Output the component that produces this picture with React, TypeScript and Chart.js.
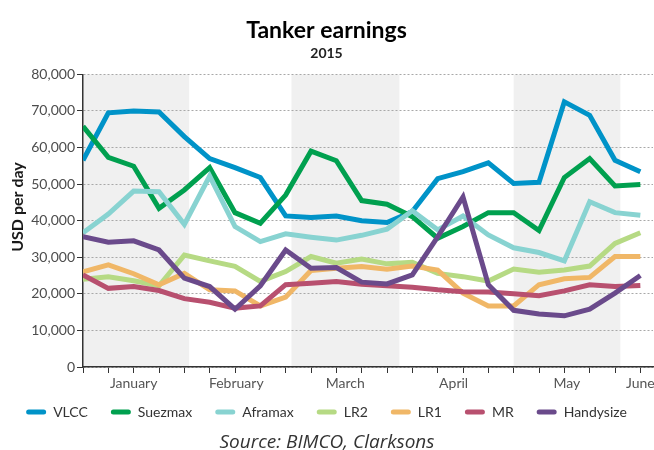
import React, { useEffect, useRef } from 'react';
import { Chart, registerables } from 'chart.js';

Chart.register(...registerables);

// ---- Data (weekly, 2015) ----
const seriesNames = ['VLCC', 'Suezmax', 'Aframax', 'LR2', 'LR1', 'MR', 'Handysize'];
const vlcc = [56500, 69500, 70000, 69700, 63000, 57000, 54500, 51800, 41300, 40900, 41300, 40000, 39500, 42500, 51500, 53400, 55800, 50200, 50500, 72500, 68800, 56500, 53400];
const suezmax = [65800, 57300, 54900, 43400, 48400, 54500, 42200, 39300, 47000, 59000, 56400, 45500, 44500, 41100, 35200, 38400, 42200, 42200, 37300, 51800, 57000, 49500, 49900];
const aframax = [36700, 41800, 48100, 47900, 39000, 52200, 38400, 34300, 36400, 35500, 34700, 36000, 37700, 42700, 37500, 41300, 36100, 32600, 31300, 29000, 45200, 42200, 41500];
const lr2 = [24000, 24700, 23600, 22200, 30600, 29000, 27500, 23400, 26100, 30200, 28400, 29500, 28200, 28600, 25600, 24700, 23500, 26800, 25900, 26500, 27600, 33800, 36700];
const lr1 = [26000, 27900, 25500, 22500, 25600, 21100, 20800, 16700, 19100, 26400, 27000, 27500, 26700, 27600, 26500, 20200, 16700, 16700, 22500, 24100, 24500, 30200, 30200];
const mr = [25200, 21500, 22000, 20900, 18700, 17700, 16100, 16700, 22500, 22900, 23400, 22600, 22200, 21800, 21100, 20600, 20500, 20000, 19500, 20800, 22500, 22000, 22300];
const handysize = [35600, 34100, 34500, 32000, 24300, 22000, 15800, 22200, 32000, 27000, 27200, 23200, 22700, 25200, 35600, 46500, 22500, 15500, 14500, 14000, 15800, 20200, 25000];

// Month labels and their position on the week axis
const months = ['January', 'February', 'March', 'April', 'May', 'June'];
const monthCenters = [2.0, 6.05, 10.35, 14.63, 19.1, 22.0];
// Shaded month bands (week-axis positions)
const bandStarts = [0, 8.23, 17.0];
const bandEnds = [4.19, 12.49, 21.21];

const yMin = 0;
const yMax = 80000;
const yStep = 10000;

const colors = ['#0093C8', '#00A04F', '#88D3D1', '#B6DA84', '#F0B767', '#B8506F', '#6A4A8B'];

const allSeries = [vlcc, suezmax, aframax, lr2, lr1, mr, handysize];

const FONT = 'Lato';
const LEGEND_SHIFT = 13;

const bandPlugin = {
  id: 'monthBands',
  beforeDraw(chart: any) {
    const { ctx, chartArea, scales } = chart;
    const x = scales.x;
    ctx.save();
    ctx.fillStyle = '#f0f0f0';
    bandStarts.forEach((s, i) => {
      const x0 = x.getPixelForValue(s);
      const x1 = x.getPixelForValue(bandEnds[i]);
      ctx.fillRect(x0, chartArea.top, x1 - x0, chartArea.bottom - chartArea.top);
    });
    ctx.restore();
  },
};

const yTitlePlugin = {
  id: 'yTitle',
  afterDraw(chart: any) {
    const { ctx } = chart;
    ctx.save();
    ctx.translate(18, 207);
    ctx.rotate(-Math.PI / 2);
    ctx.font = `bold 16px ${FONT}`;
    ctx.fillStyle = '#1a1a1a';
    ctx.textAlign = 'center';
    ctx.textBaseline = 'middle';
    ctx.fillText('USD per day', 0, 0);
    ctx.restore();
  },
};

// Pull the legend row up closer to the month labels
const legendShiftPlugin = {
  id: 'legendShift',
  afterLayout(chart: any) {
    const lg = chart.legend;
    if (lg) {
      lg.top -= LEGEND_SHIFT;
      lg.bottom -= LEGEND_SHIFT;
    }
  },
};

export default function App() {
  const canvasRef = useRef<HTMLCanvasElement | null>(null);

  useEffect(() => {
    let chart: Chart | null = null;
    let cancelled = false;
    const create = () => {
      if (cancelled || !canvasRef.current) return;
      const datasets = allSeries.map((values, i) => ({
        label: seriesNames[i],
        data: values.map((v, idx) => ({ x: idx, y: v })),
        borderColor: colors[i],
        backgroundColor: colors[i],
        borderWidth: 5,
        pointRadius: 0,
        tension: 0,
        fill: false,
        order: allSeries.length - i,
      }));
      const baseGen = (Chart as any).defaults.plugins.legend.labels.generateLabels;
      chart = new Chart(canvasRef.current, {
        type: 'line',
        data: { datasets },
        options: {
          responsive: false,
          animation: false,
          events: [],
          layout: { padding: { left: 0, right: 1, top: 0, bottom: 8 } },
          plugins: {
            title: {
              display: true,
              text: 'Tanker earnings',
              color: '#000',
              font: { family: FONT, size: 23, weight: 'bold' },
              padding: { top: 17, bottom: 0 },
            },
            subtitle: {
              display: true,
              text: '2015',
              color: '#222',
              font: { family: FONT, size: 14, weight: 'bold' },
              padding: { top: 0, bottom: 13 },
            },
            legend: {
              position: 'bottom',
              labels: {
                font: { family: FONT, size: 14 },
                color: '#333',
                boxWidth: 20,
                boxHeight: 5,
                padding: 23,
                useBorderRadius: true,
                borderRadius: 2.5,
                sort: (a: any, b: any) => a.datasetIndex - b.datasetIndex,
                generateLabels: (c: any) =>
                  baseGen(c).map((l: any) => ({ ...l, lineWidth: 0, borderRadius: 2.5 })),
              },
            },
            tooltip: { enabled: false },
          },
          scales: {
            x: {
              type: 'linear',
              position: 'bottom',
              min: 0,
              max: 22.5,
              weight: 0,
              grid: { drawOnChartArea: false, drawTicks: true, tickLength: 6, color: '#333', tickColor: '#333', tickWidth: 1 },
              border: { color: '#333', width: 1.5 },
              ticks: { display: false },
              afterBuildTicks: (s: any) => {
                s.ticks = vlcc.map((_, i) => ({ value: i }));
              },
              afterFit: (s: any) => {
                s.height = 6;
              },
            },
            x2: {
              type: 'linear',
              position: 'bottom',
              min: 0,
              max: 22.5,
              weight: 1,
              grid: { display: false, drawTicks: false },
              border: { display: false },
              ticks: {
                autoSkip: false,
                maxRotation: 0,
                padding: 2,
                color: '#555',
                font: { family: FONT, size: 14 },
                callback: (v: any) => {
                  const k = monthCenters.indexOf(v);
                  return k >= 0 ? months[k] : '';
                },
              },
              afterBuildTicks: (s: any) => {
                s.ticks = monthCenters.map((v) => ({ value: v }));
              },
              afterFit: (s: any) => {
                s.height = 22;
                s.paddingLeft = 0;
                s.paddingRight = 0;
              },
            },
            y: {
              type: 'linear',
              min: yMin,
              max: yMax,
              ticks: {
                stepSize: yStep,
                padding: 2,
                color: '#4d4d4d',
                font: { family: FONT, size: 14 },
              },
              grid: { color: '#a8a8a8', lineWidth: 1, tickColor: '#333', tickLength: 6, tickWidth: 1 },
              border: { color: '#333', width: 1.5, dash: [2, 2] },
              afterFit: (s: any) => {
                s.width = 83;
              },
            },
          },
        } as any,
        plugins: [bandPlugin, yTitlePlugin, legendShiftPlugin],
      });
    };
    const fonts = (document as any).fonts;
    if (fonts && fonts.load) {
      Promise.all([
        fonts.load(`14px ${FONT}`),
        fonts.load(`bold 23px ${FONT}`),
        fonts.load(`italic 19px "Open Sans"`),
      ]).then(create, create);
    } else {
      create();
    }
    return () => {
      cancelled = true;
      if (chart) chart.destroy();
    };
  }, []);

  return (
    <div style={{ position: 'absolute', left: 0, top: 0, width: 654, height: 450, background: '#fff' }}>
      <canvas ref={canvasRef} width={654} height={450} style={{ display: 'block' }} />
      <div
        style={{
          position: 'absolute',
          left: 0,
          top: 430,
          width: 654,
          textAlign: 'center',
          fontFamily: '"Open Sans"',
          fontStyle: 'italic',
          fontSize: 19,
          lineHeight: '22px',
          color: '#333',
        }}
      >
        Source: BIMCO, Clarksons
      </div>
    </div>
  );
}
